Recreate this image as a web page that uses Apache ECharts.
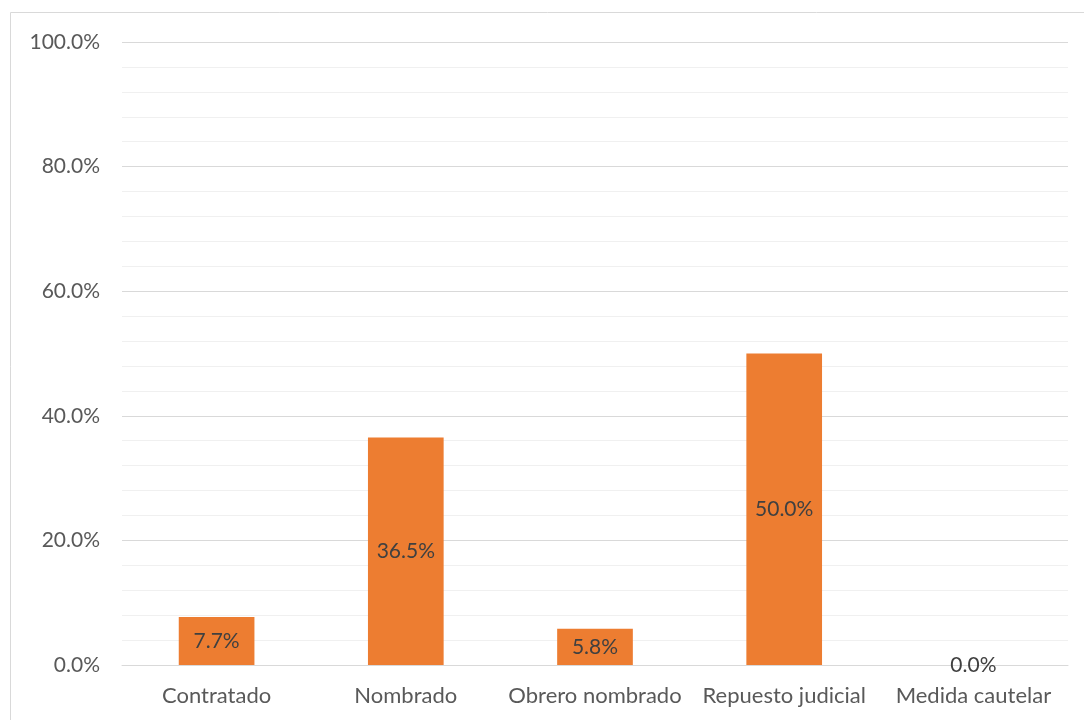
<!DOCTYPE html>
<html lang="es">
<head>
    <meta charset="UTF-8">
    <title>Condición laboral</title>
    <style>
        html, body { margin: 0; padding: 0; background: #fff; }
        #main { width: 1084px; height: 720px; }
    </style>
    <script src="https://cdn.jsdelivr.net/npm/echarts@6/dist/echarts.min.js"></script>
</head>
<body>
<div id="main"></div>
<script>
    // datos del gráfico
    var categorias = ['Contratado', 'Nombrado', 'Obrero nombrado', 'Repuesto judicial', 'Medida cautelar'];
    var porcentajes = [7.7, 36.5, 5.8, 50.0, 0.0];

    var myChart = echarts.init(document.getElementById('main'));
    var fuente = 'Lato, "Open Sans", sans-serif';

    var option = {
        animation: false,
        graphic: [{
            type: 'rect',
            shape: { x: 10.5, y: 12.5, width: 1090, height: 720 },
            style: { fill: 'none', stroke: '#d9d9d9', lineWidth: 1 },
            silent: true
        }],
        grid: { left: 122, right: 16, top: 42, bottom: 55 },
        xAxis: {
            type: 'category',
            data: categorias,
            axisLine: { lineStyle: { color: '#d9d9d9', width: 1 } },
            axisTick: { show: false },
            axisLabel: { color: '#595959', fontSize: 22, fontFamily: fuente, margin: 20, interval: 0 }
        },
        yAxis: {
            type: 'value',
            min: 0,
            max: 100,
            interval: 20,
            axisLine: { show: false },
            axisTick: { show: false },
            axisLabel: {
                color: '#595959', fontSize: 21, fontFamily: fuente, margin: 22,
                formatter: function (v) { return v.toFixed(1) + '%'; }
            },
            splitLine: { lineStyle: { color: '#d9d9d9', width: 1 } },
            minorTick: { show: false, splitNumber: 5 },
            minorSplitLine: { show: true, lineStyle: { color: '#f0f0f0', width: 1 } }
        },
        series: [{
            type: 'bar',
            data: porcentajes,
            barWidth: '40%',
            itemStyle: { color: '#ed7d31' },
            label: {
                show: true,
                position: 'inside',
                color: '#404040',
                fontSize: 21,
                fontFamily: fuente,
                formatter: function (p) { return p.value.toFixed(1) + '%'; }
            }
        }]
    };

    myChart.setOption(option);
</script>
</body>
</html>
